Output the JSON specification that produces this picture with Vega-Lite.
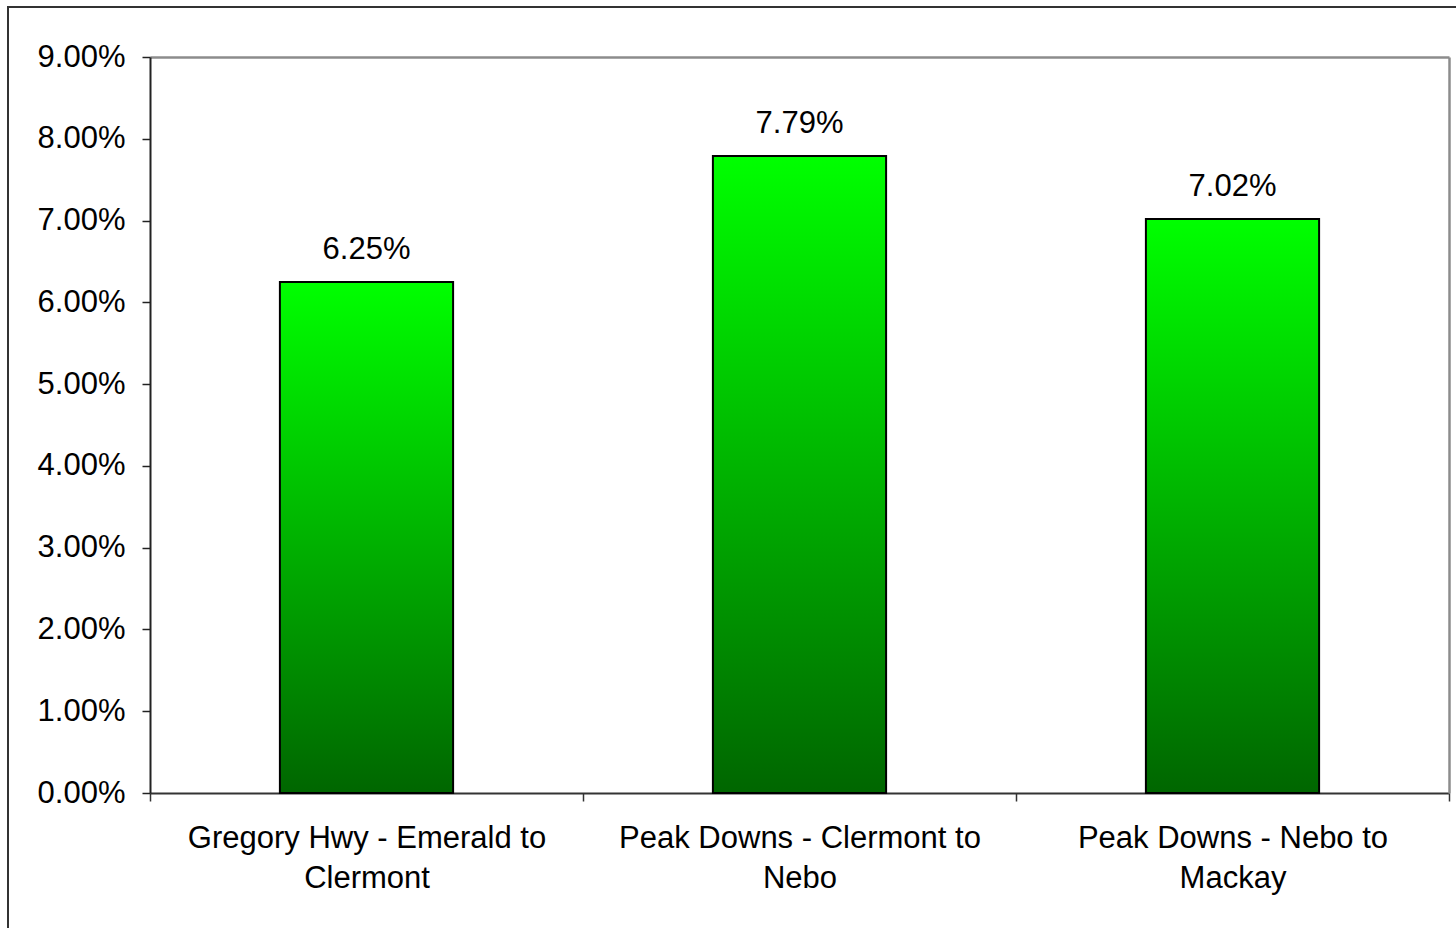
{
  "$schema": "https://vega.github.io/schema/vega-lite/v6.json",
  "autosize": "none",
  "padding": {"left": 8, "top": 7, "right": 0, "bottom": 0},
  "width": 1450,
  "height": 923,
  "background": "white",
  "config": {
    "view": {"stroke": "#333333", "strokeWidth": 2},
    "font": "Liberation Sans",
    "axis": {"grid": false, "labelFont": "Liberation Sans", "labelColor": "#000000", "labelFontSize": 31, "titleFontSize": 31, "labelLimit": 0}
  },
  "data": {
    "values": [
      {"segment": "Gregory Hwy - Emerald to Clermont", "value": 0.0625},
      {"segment": "Peak Downs - Clermont to Nebo", "value": 0.0779},
      {"segment": "Peak Downs - Nebo to Mackay", "value": 0.0702}
    ]
  },
  "layer": [
    {
      "mark": {
        "type": "bar",
        "stroke": "#000000",
        "strokeWidth": 2,
        "width": {"band": 0.4},
        "color": {
          "gradient": "linear",
          "x1": 0, "y1": 0, "x2": 0, "y2": 1,
          "stops": [
            {"offset": 0, "color": "#00ff00"},
            {"offset": 1, "color": "#006600"}
          ]
        }
      },
      "encoding": {
        "x": {
          "field": "segment",
          "type": "nominal",
          "sort": null,
          "scale": {"range": [142, 1441], "paddingInner": 0, "paddingOuter": 0},
          "axis": {
            "title": null,
            "orient": "bottom",
            "offset": -137,
            "labelAngle": 0,
            "tickBand": "extent",
            "tickSize": 8,
            "tickColor": "#333333",
            "tickWidth": 1.5,
            "domainColor": "#333333",
            "domainWidth": 2,
            "labelPadding": 22,
            "labelBaseline": "top",
            "labelLineHeight": 40,
            "labelLimit": 0,
            "labelExpr": "split(replace(datum.label, ' to ', ' to|'), '|')"
          }
        },
        "y": {
          "field": "value",
          "type": "quantitative",
          "scale": {"domain": [0, 0.09], "range": [786, 50], "nice": false, "zero": true},
          "axis": {
            "title": null,
            "orient": "left",
            "offset": -142,
            "values": [0, 0.01, 0.02, 0.03, 0.04, 0.05, 0.06, 0.07, 0.08, 0.09],
            "format": ".2%",
            "tickSize": 8,
            "tickColor": "#222222",
            "tickWidth": 1.5,
            "domainColor": "#222222",
            "domainWidth": 2,
            "labelPadding": 17
          }
        }
      }
    },
    {
      "mark": {"type": "text", "fontSize": 31, "font": "Liberation Sans", "color": "#000000", "baseline": "alphabetic", "dy": -23},
      "encoding": {
        "x": {
          "field": "segment",
          "type": "nominal",
          "sort": null,
          "axis": {"orient": "top", "offset": -50, "title": null, "labels": false, "ticks": false, "domainColor": "#8c8c8c", "domainWidth": 2.5}
        },
        "y": {
          "field": "value",
          "type": "quantitative",
          "axis": {"orient": "right", "offset": -9, "title": null, "labels": false, "ticks": false, "domainColor": "#8c8c8c", "domainWidth": 2.5}
        },
        "text": {"field": "value", "type": "quantitative", "format": ".2%"}
      }
    }
  ]
}
